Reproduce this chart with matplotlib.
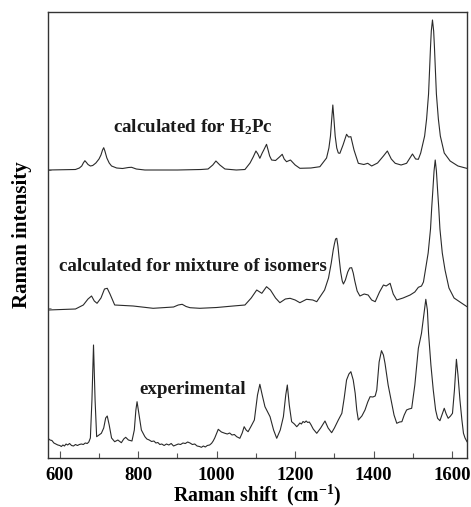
import matplotlib
matplotlib.use("Agg")
import matplotlib.pyplot as plt

# ---- data (Raman shift in cm^-1, intensity in arbitrary units, traces already offset) ----
h2pc_x = [570, 640, 650, 656, 660, 664, 668, 672, 678, 684, 692, 700, 705, 709, 712, 715, 720,
          726, 732, 745, 760, 775, 783, 795, 817, 900,
          960, 978, 990, 998, 1008, 1021, 1050, 1072, 1085, 1093, 1100, 1105, 1110, 1116, 1120,
          1127, 1131, 1135, 1140,
          1150, 1160, 1167, 1172, 1178, 1188, 1200, 1212, 1240, 1263, 1280, 1286, 1290, 1293,
          1296, 1299, 1302, 1306, 1310, 1314, 1322, 1331, 1336, 1342, 1350, 1361, 1375, 1385,
          1395, 1410, 1425, 1435, 1445, 1455, 1470, 1484, 1499, 1507, 1514, 1520, 1530, 1535,
          1540, 1543, 1545, 1547, 1550, 1553, 1555, 1557, 1560, 1565, 1570, 1580, 1595, 1615, 1637]
h2pc_y = [288, 288.5, 290, 292, 295, 297.3, 295.5, 293.5, 292, 292.5, 295, 299, 303, 308, 310.3,
          307, 300, 295, 292, 290, 289.5, 290.5, 290.7,
          289, 288, 288, 288.5, 289, 293, 297, 293, 289, 288, 288.5, 295, 301, 307, 304, 299.7,
          305, 308, 313.7, 308,
          302, 298, 297.5, 301, 303.7, 299, 296.3, 298, 293, 289.7, 290, 291.3, 300, 310, 322,
          338, 353, 338, 322, 310, 305, 304.7, 313, 323.7, 321, 321.3, 308, 294.7, 293.5, 294.7,
          292, 295, 302, 307, 299, 294.7, 293, 294.7, 304, 299, 298.7, 305, 322, 339, 364, 392,
          411, 427, 438, 427, 411, 392, 364, 339, 322, 305, 297, 292, 289.7]

mix_x = [570, 640, 660, 672, 681, 688, 695, 705, 714, 721, 728, 740, 787, 838, 890, 902, 912,
         922, 932, 957, 1000, 1042, 1072, 1088, 1102, 1115, 1127, 1137, 1150, 1161, 1175, 1187,
         1200, 1212, 1229, 1245, 1255, 1275, 1285, 1292, 1297, 1300, 1303, 1306, 1309, 1312,
         1316, 1320, 1323, 1328, 1334, 1339, 1344, 1348, 1352, 1358, 1365, 1376, 1386, 1395,
         1404, 1415, 1425, 1432, 1442, 1450, 1459, 1475, 1493,
         1505, 1514, 1522, 1527, 1532, 1539, 1545, 1548, 1551, 1554, 1557, 1560, 1563, 1566,
         1569, 1575, 1582, 1592, 1605, 1625, 1638]
mix_y = [148, 149, 153, 159, 162, 157, 154.7, 160, 169, 169.7, 164, 153, 152, 149.7, 151, 153,
         153.7, 151.5, 150.3, 149.7, 150.5, 152, 153, 160, 168, 164.7, 171.3, 168, 160, 155.3,
         159, 159.7, 158, 155.3, 158.7, 158, 156.3, 168, 180, 195, 208, 214, 219, 219.7, 212,
         200, 186, 177, 174, 178, 186, 190, 190.3, 185, 177, 167, 162, 164, 163, 158,
         156.3, 166, 173, 172, 174.7, 164, 158, 160, 163, 166,
         170.7, 172, 176, 188, 205, 229, 250, 268, 287, 298, 287, 268, 250, 229, 205, 188, 170,
         160, 154.7, 151.3]

exp_x = [570, 575, 580, 585, 590, 595, 600, 604, 608, 612, 616, 620, 625, 630, 635, 640, 645,
         650, 655, 660, 665, 670, 674, 678, 682, 686, 690, 694, 700, 706,
         712, 717, 721, 726, 732, 740, 748, 757, 763, 768, 775, 784, 790, 794, 797, 801, 808,
         817, 822, 828, 834, 840, 845, 850, 855, 860, 866, 872, 878, 884, 890, 896, 902, 908,
         914, 920, 926, 932, 938, 944, 950, 956, 961, 966, 971, 976, 982, 987, 991, 995, 1004,
         1012, 1021, 1027, 1033, 1039, 1045, 1051, 1055, 1059, 1065, 1070, 1075, 1080, 1088,
         1096, 1104, 1110, 1116, 1123,
         1130, 1136, 1145, 1153, 1162, 1170, 1176, 1180, 1185, 1191, 1198, 1204, 1208, 1212,
         1216, 1220, 1224, 1228, 1232, 1236, 1240, 1246, 1255, 1265, 1276, 1284, 1293, 1300,
         1310, 1319, 1325, 1331,
         1337, 1342, 1348, 1353, 1357, 1361, 1370, 1378, 1385, 1391, 1398, 1404, 1408, 1414,
         1420, 1425, 1429, 1437, 1446, 1452, 1459, 1466, 1472, 1478, 1484, 1490, 1497, 1505,
         1514, 1522, 1528, 1533, 1537, 1540, 1546, 1552, 1558, 1563, 1569, 1575, 1580, 1585,
         1590, 1596, 1601, 1606, 1611, 1615, 1620, 1625, 1629, 1633, 1638]
exp_y = [19.7, 18, 17.5, 15, 14, 13, 12.5, 11.5, 13, 12, 14, 13, 14.5, 12.5, 12, 13.5, 12.5,
         13.5, 14, 13.5, 15, 14.5, 16, 20, 58, 113, 58, 21.3, 23, 24.7,
         30, 40, 42, 33, 20, 16.3, 18, 15.3, 19, 20.7, 18, 17, 28, 48, 56.3, 46, 28,
         21.3, 19, 18, 16.5, 17, 15, 15.5, 13.5, 14, 12.5, 14, 13, 14.5, 12, 13, 14, 13.5,
         15, 14.5, 16, 15, 13.5, 14, 12, 11.5, 10.7, 12, 11, 12.5, 13, 14.7, 17, 20, 28.7,
         26, 24.7, 24, 25, 23, 23.5, 21.3, 20.5, 19.7, 25, 31.3, 28, 26.3, 32,
         38, 63, 73.7, 63, 51.3,
         46, 41.3, 28, 19.7, 28, 41.3, 63, 73, 53, 36.3, 34, 31.3, 33, 35,
         34, 36.5, 35.5, 37, 35.5, 36, 33.5, 29, 24.7, 30, 37, 30, 25.3, 30,
         38, 44.7, 60, 78,
         84, 86.3, 78, 64.7, 48, 38, 42, 48, 56, 61.3, 61, 62, 68, 96,
         107.3, 103, 94.7, 73, 54.7, 43, 34.7, 36, 36.3, 43, 48, 49, 49.7, 73,
         109.7, 124.7, 143, 158.7, 148, 124.7, 93, 68, 48, 39.7, 37.3, 44, 49.7, 44,
         39.7, 42, 44.7, 68, 98.7, 83, 58, 38, 24.7, 20, 16.3]

trace_labels = ["calculated for H$_\\mathbf{2}$Pc", "calculated for mixture of isomers", "experimental"]
label_y = [331, 191.3, 68]
label_x = 940
baselines = [288, 150]
xticks = [600, 800, 1000, 1200, 1400, 1600]

plt.rcParams['font.family'] = ['Liberation Serif', 'DejaVu Serif']
plt.rcParams['mathtext.fontset'] = 'custom'
plt.rcParams['mathtext.rm'] = 'Liberation Serif:bold'
plt.rcParams['mathtext.bf'] = 'Liberation Serif:bold'
plt.rcParams['mathtext.it'] = 'Liberation Serif:bold'

fig = plt.figure(figsize=(4.71, 5.07), dpi=100)
ax = fig.add_axes([48 / 471, 1 - 458 / 507, 419 / 471, 446 / 507])

lc = '#2a2a2a'
for xs, ys in [(h2pc_x, h2pc_y), (mix_x, mix_y), (exp_x, exp_y)]:
    ax.plot(xs, ys, color=lc, lw=0.8)

ax.set_xlim(570, 1638)
ax.set_ylim(0, 446)

ax.set_xticks(xticks)
ax.set_xticks(range(700, 1700, 200), minor=True)
ax.set_yticks(baselines)
ax.set_yticklabels([])
ax.tick_params(axis='x', which='major', direction='in', length=5, width=0.8, color='#555555',
               labelsize=13.5, pad=6.5)
ax.tick_params(axis='x', which='minor', direction='in', length=3.5, width=0.8, color='#555555')
ax.tick_params(axis='y', which='major', direction='in', length=2, width=0.6, color='#777777')
for lab in ax.get_xticklabels():
    lab.set_fontweight('bold')
for sp in ax.spines.values():
    sp.set_linewidth(1.0)
    sp.set_color('#333333')

ax.set_xlabel("Raman shift  (cm$^{\\mathbf{-1}}$)", fontsize=14.2, fontweight='bold')
ax.xaxis.set_label_coords(0.5, -0.056)
ax.set_ylabel("Raman intensity", fontsize=15, fontweight='bold', labelpad=8)

for txt, ty in zip(trace_labels, label_y):
    ax.text(label_x, ty, txt, fontsize=13.7, fontweight='bold', ha='center', va='center',
            color='#1a1a1a')

fig.savefig("out.png", dpi=100)
